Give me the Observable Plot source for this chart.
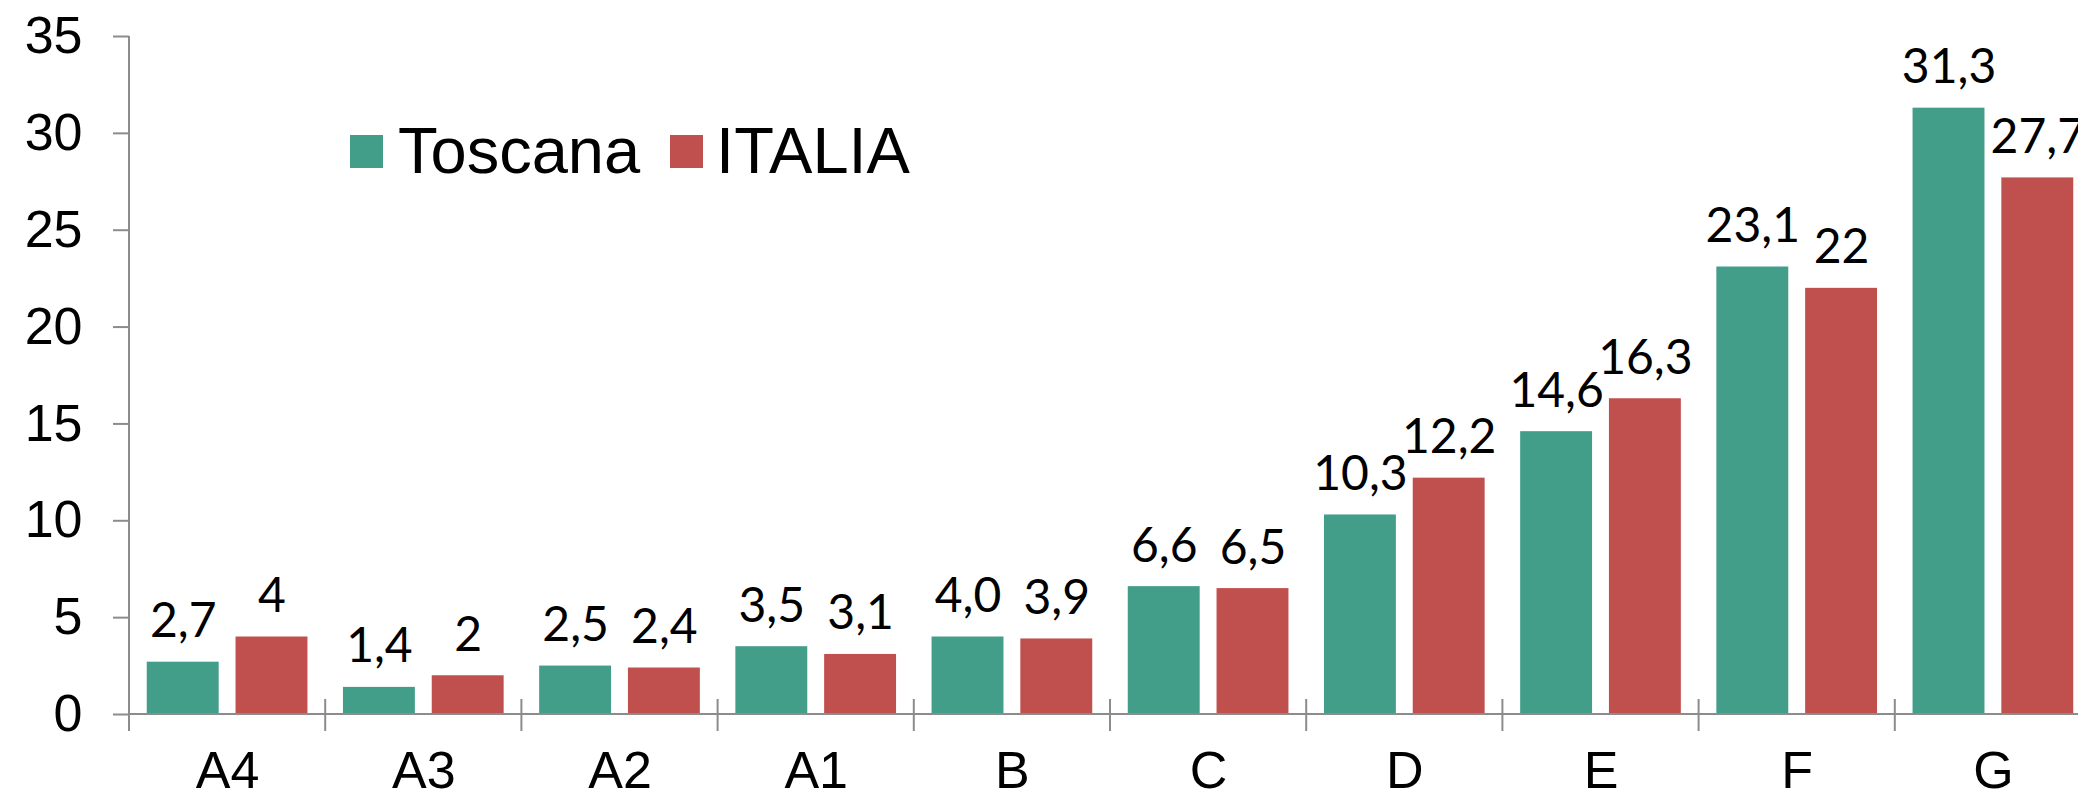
<!DOCTYPE html>
<html><head><meta charset="utf-8">
<script src="https://cdn.jsdelivr.net/npm/d3@7"></script>
<script src="https://cdn.jsdelivr.net/npm/@observablehq/plot@0.6"></script>
<style>
html,body{margin:0;padding:0;background:#fff;overflow:hidden;}
#wrap{position:relative;width:2078px;height:798px;}
#legend{position:absolute;left:350px;top:118px;display:flex;align-items:flex-start;font-family:"Liberation Sans",Arial,sans-serif;font-size:65px;line-height:1;color:#000;}
.sw{width:33px;height:33px;margin-top:17px;}
</style></head><body><div id="wrap"><div id="legend"></div></div>
<script>
const categories = ["A4","A3","A2","A1","B","C","D","E","F","G"];
const series = ["Toscana","ITALIA"];
const toscana = [2.7,1.4,2.5,3.5,4.0,6.6,10.3,14.6,23.1,31.3];
const italia = [4,2,2.4,3.1,3.9,6.5,12.2,16.3,22,27.7];
const toscanaLabels = ["2,7","1,4","2,5","3,5","4,0","6,6","10,3","14,6","23,1","31,3"];
const italiaLabels = ["4","2","2,4","3,1","3,9","6,5","12,2","16,3","22","27,7"];
const yTicks = [0,5,10,15,20,25,30,35];
const colors = ["#429D89","#C0504D"];
const AXIS = "#8c8c8c";

const data = [];
categories.forEach((c,i)=>{
  data.push({cat:c, series:series[0], value:toscana[i], label:toscanaLabels[i]});
  data.push({cat:c, series:series[1], value:italia[i], label:italiaLabels[i]});
});

const chart = Plot.plot({
  width: 2078, height: 798,
  marginLeft: 129, marginRight: -13, marginTop: 36, marginBottom: 84,
  style: {fontFamily: '"Liberation Sans", Arial, sans-serif', background: "white", color: "black", overflow: "hidden"},
  fx: {domain: categories, padding: 0, round: false, label: null},
  x: {domain: series, paddingInner: 0.19, paddingOuter: 0.2, round: false, axis: null},
  y: {domain: [0,35], label: null},
  color: {domain: series, range: colors},
  marks: [
    Plot.barY(data, {fx:"cat", x:"series", y:"value", fill:"series"}),
    Plot.text(data, {fx:"cat", x:"series", y:"value", text:"label", lineAnchor:"bottom", dy:-25, fontSize:48, fontFamily:"Lato, sans-serif", fill:"black"}),
    Plot.axisY(yTicks, {anchor:"left", tickSize:16, tickPadding:31, fontSize:52, stroke:AXIS, strokeWidth:2, label:null}),
    Plot.axisFx({anchor:"bottom", tickSize:0, tickPadding:37, fontSize:52, label:null}),
    Plot.frame({facet:"super", render: (index, scales, values, dimensions) => {
      const {width, marginLeft, marginRight} = dimensions;
      const fx = scales.fx || d3.scaleBand(categories, [marginLeft, width - marginRight]);
      const y = scales.y;
      const y0 = y(0), yTop = y(35);
      const left = fx(categories[0]);
      const g = d3.create("svg:g").attr("stroke", AXIS).attr("stroke-width", 2).attr("fill", "none");
      g.append("line").attr("x1", left).attr("x2", left).attr("y1", yTop).attr("y2", y0 + 17);
      g.append("line").attr("x1", left).attr("x2", width - marginRight).attr("y1", y0).attr("y2", y0);
      categories.slice(1).forEach(c => {
        const xx = fx(c);
        g.append("line").attr("x1", xx).attr("x2", xx).attr("y1", y0 - 15).attr("y2", y0 + 17);
      });
      return g.node();
    }})
  ]
});
document.getElementById("wrap").prepend(chart);

const legend = document.getElementById("legend");
const gaps = [[15, 30], [13, 0]];
series.forEach((s, i) => {
  const sw = document.createElement("div");
  sw.className = "sw";
  sw.style.background = colors[i];
  sw.style.marginRight = gaps[i][0] + "px";
  const t = document.createElement("span");
  t.textContent = s;
  t.style.marginRight = gaps[i][1] + "px";
  legend.append(sw, t);
});
</script>
</body></html>
